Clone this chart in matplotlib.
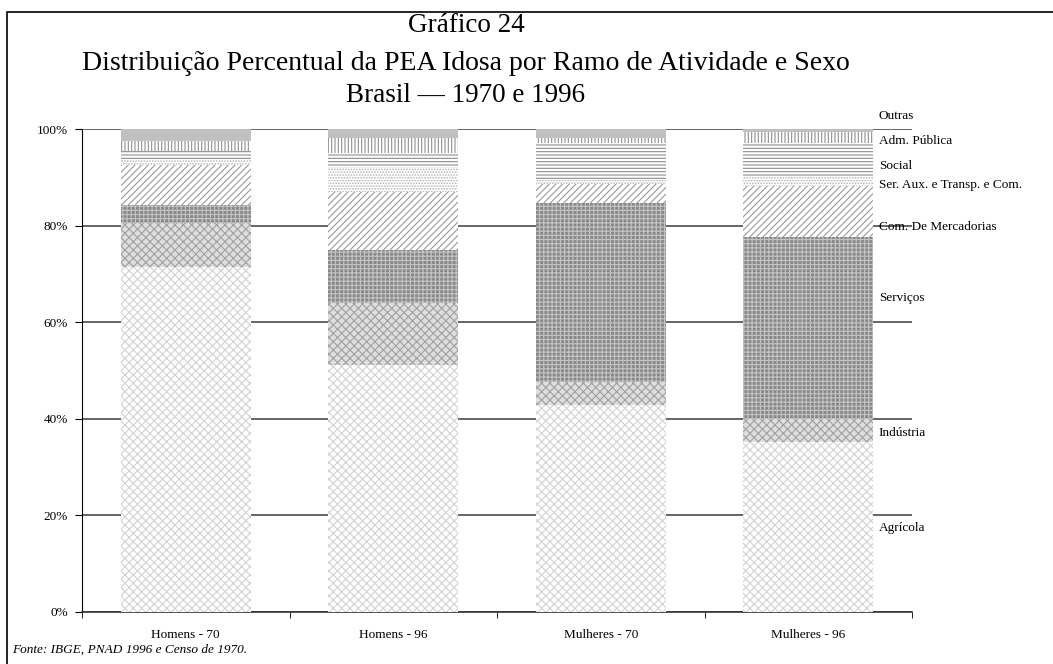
import numpy as np
import matplotlib
matplotlib.use("Agg")
import matplotlib.pyplot as plt
from matplotlib.patches import Rectangle

plt.rcParams['font.family'] = ['Liberation Serif', 'DejaVu Serif']
plt.rcParams['hatch.linewidth'] = 0.8

# data (percent of elderly economically active population)
categories = ["Homens - 70", "Homens - 96", "Mulheres - 70", "Mulheres - 96"]
sectors = ["Agrícola", "Indústria", "Serviços", "Com. De Mercadorias",
           "Ser. Aux. e Transp. e Com.", "Social", "Adm. Pública", "Outras"]
agricola = [71.5, 51.1, 42.9, 35.3]
industria = [9.1, 12.8, 4.8, 4.6]
servicos = [3.7, 11.0, 36.9, 37.8]
com_merc = [8.2, 12.1, 4.1, 10.4]
ser_aux = [1.2, 5.2, 0.7, 2.0]
social = [1.8, 2.8, 7.6, 6.9]
adm_publica = [2.0, 3.2, 1.2, 2.3]
outras = [2.5, 1.8, 1.8, 0.7]
yticks = [0, 20, 40, 60, 80, 100]

series = [agricola, industria, servicos, com_merc, ser_aux, social, adm_publica, outras]

# fill styles (face, hatch, hatch colour)
styles = [
    ("#ffffff", "xxxx", "#d2d2d2"),
    ("#dedede", "xxxx", "#a0a0a0"),
    ("#8a8a8a", "++++", "#c4c4c4"),
    ("#ffffff", "/////", "#9a9a9a"),
    ("#ffffff", "......", "#b4b4b4"),
    ("#ffffff", "-----", "#8c8c8c"),
    ("#ffffff", "|||||", "#909090"),
    ("#c0c0c0", "", "#c0c0c0"),
]
# label heights on the right side (percent units)
label_y = [17.4, 37.1, 65.0, 79.7, 88.4, 92.3, 97.5, 102.7]

fig = plt.figure(figsize=(10.53, 6.64), dpi=100)
ax = fig.add_axes([82 / 1053, 52 / 664, 830 / 1053, 483 / 664])

x = np.arange(len(categories))
width = 0.627
bottom = np.zeros(len(categories))
for vals, (fc, hatch, hc) in zip(series, styles):
    ax.bar(x, vals, width, bottom=bottom, color=fc, edgecolor=hc,
           hatch=hatch, linewidth=0, zorder=3)
    bottom += np.array(vals)

for name, ly in zip(sectors, label_y):
    ax.text(x[-1] + width / 2 + 0.027, ly, name, fontsize=9.5,
            va='center', ha='left', zorder=4, clip_on=False)

ax.set_xlim(-0.5, len(categories) - 0.5)
ax.set_ylim(0, 100)
ax.set_yticks(yticks)
ax.set_yticklabels([f"{t}%" for t in yticks], fontsize=9.5)
ax.yaxis.grid(True, color='#3c3c3c', linewidth=1.1)
ax.set_axisbelow(True)

ax.set_xticks(x)
ax.set_xticklabels(categories, fontsize=9.5)
ax.set_xticks(np.arange(len(categories) + 1) - 0.5, minor=True)
ax.tick_params(axis='x', which='major', length=0, pad=12)
ax.tick_params(axis='x', which='minor', length=4, direction='out', color='black')
ax.tick_params(axis='y', length=5, direction='out', pad=5)

for s in ['top', 'right']:
    ax.spines[s].set_visible(False)
ax.spines['left'].set_color('black')
ax.spines['bottom'].set_color('#333333')
ax.spines['bottom'].set_linewidth(1.2)

fig.text(466 / 1053, 1 - 26 / 664, "Gráfico 24", fontsize=19.5, ha='center', va='center')
fig.text(466 / 1053, 1 - 63 / 664,
         "Distribuição Percentual da PEA Idosa por Ramo de Atividade e Sexo",
         fontsize=20, ha='center', va='center')
fig.text(466 / 1053, 1 - 95 / 664, "Brasil — 1970 e 1996", fontsize=19.5,
         ha='center', va='center')
fig.text(12 / 1053, 1 - 650 / 664, "Fonte: IBGE, PNAD 1996 e Censo de 1970.",
         fontsize=9.5, style='italic', ha='left', va='center')

# outer frame (cut off at right and bottom in the original)
fig.patches.append(Rectangle((7 / 1053, -0.1), 2, 1 - 12 / 664 + 0.1,
                             transform=fig.transFigure, fill=False,
                             edgecolor='black', linewidth=1.2))

fig.savefig("out.png", dpi=100)
